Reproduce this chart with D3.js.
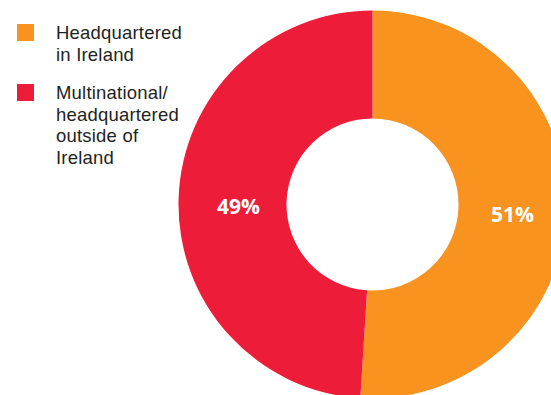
<!DOCTYPE html>
<html>
<head>
<meta charset="utf-8">
<script src="https://cdn.jsdelivr.net/npm/d3@7"></script>
<style>
  html, body { margin: 0; padding: 0; background: #fff; overflow: hidden; }
  svg { display: block; }
</style>
</head>
<body>
<svg id="chart" width="551" height="395"></svg>
<script>
// Ownership split of companies
const categories = ["Headquartered in Ireland", "Multinational/ headquartered outside of Ireland"];
const values = [51, 49];
const valueLabels = ["51%", "49%"];
const legendLines = [["Headquartered", "in Ireland"], ["Multinational/", "headquartered", "outside of", "Ireland"]];
const colors = ["#F7931E", "#ED1C39"];

const svg = d3.select("#chart");
const cx = 372.5, cy = 204.5, outerR = 194, innerR = 86;

const color = d3.scaleOrdinal().domain(categories).range(colors);
const pie = d3.pie().sort(null).value(d => d.value);
const data = categories.map((c, i) => ({ cat: c, value: values[i], label: valueLabels[i] }));
const arcs = pie(data);

const arc = d3.arc().innerRadius(innerR).outerRadius(outerR);
const labelArc = d3.arc().innerRadius(137).outerRadius(137);

const g = svg.append("g").attr("transform", `translate(${cx},${cy})`);
g.selectAll("path.slice")
  .data(arcs)
  .join("path")
  .attr("class", "slice")
  .attr("d", arc)
  .attr("fill", d => color(d.data.cat));

g.selectAll("text.pct")
  .data(arcs)
  .join("text")
  .attr("class", "pct")
  .attr("transform", d => {
    const [x, y] = labelArc.centroid(d);
    return `translate(${x + 3},${y + 5.5})`;
  })
  .attr("text-anchor", "middle")
  .attr("dominant-baseline", "central")
  .attr("fill", "#fff")
  .style("font-family", "'Open Sans', sans-serif")
  .style("font-weight", 700)
  .style("font-size", "21px")
  .text(d => d.data.label);

// Legend
const legendTops = [24, 84];
const legend = svg.append("g");
categories.forEach((c, i) => {
  const item = legend.append("g").attr("transform", `translate(17,${legendTops[i]})`);
  item.append("rect").attr("width", 17).attr("height", 17).attr("fill", color(c));
  const t = item.append("text")
    .attr("x", 39)
    .attr("y", 15)
    .attr("fill", "#231f20")
    .style("font-family", "'Liberation Sans', Arial, sans-serif")
    .style("font-size", "18.5px")
    .style("letter-spacing", "0.2px");
  legendLines[i].forEach((line, j) => {
    t.append("tspan").attr("x", 39).attr("dy", j === 0 ? 0 : 21.5).text(line);
  });
});
</script>
</body>
</html>
